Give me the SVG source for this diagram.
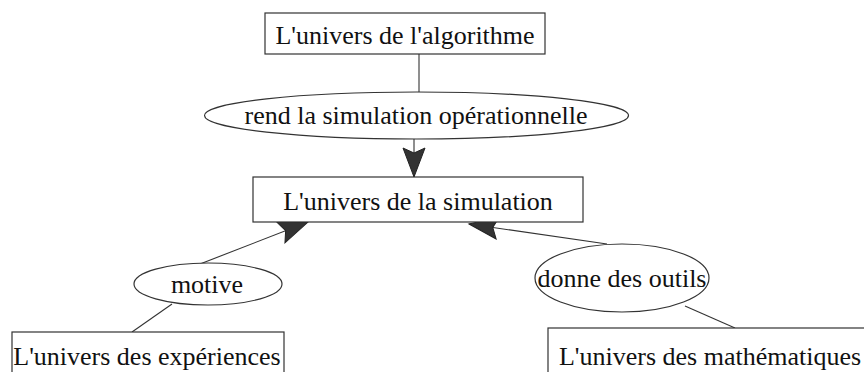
<svg xmlns="http://www.w3.org/2000/svg" width="864" height="372" viewBox="0 0 864 372">
<defs>
<style>
.box{fill:#fff;stroke:#333;stroke-width:1.2}
.ell{fill:#fff;stroke:#333;stroke-width:1.2}
.t{font-family:"Liberation Serif","Times New Roman",serif;font-size:26px;fill:#111;text-anchor:middle}
.c{fill:none;stroke:#333;stroke-width:1.1}
</style>
<marker id="ah" viewBox="-30 -12 32 24" refX="0" refY="0" markerWidth="32" markerHeight="24" markerUnits="userSpaceOnUse" orient="auto">
<path d="M0,0 L-29,-11 L-24,0 L-29,11 Z" fill="#333" stroke="#222" stroke-width="1"/>
</marker>
</defs>
<rect width="864" height="372" fill="#fff"/>
<g id="connectors">
<line class="c" x1="419" y1="54" x2="419" y2="92"/>
<line class="c" x1="414" y1="139" x2="414" y2="177" marker-end="url(#ah)"/>
<line class="c" x1="200" y1="264" x2="308" y2="222" marker-end="url(#ah)"/>
<line class="c" x1="172" y1="304" x2="132" y2="332"/>
<line class="c" x1="607" y1="244" x2="469" y2="224" marker-end="url(#ah)"/>
<line class="c" x1="685" y1="306" x2="735" y2="328"/>
</g>
<g id="n-algorithme">
<rect class="box" x="265" y="13" width="280" height="41"/>
<text class="t" x="405" y="44">L'univers de l'algorithme</text>
</g>
<g id="e-rend">
<ellipse class="ell" cx="416.5" cy="115.5" rx="212" ry="23.5"/>
<text class="t" x="416" y="124">rend la simulation opérationnelle</text>
</g>
<g id="n-simulation">
<rect class="box" x="253" y="177" width="330" height="45"/>
<text class="t" x="418" y="210">L'univers de la simulation</text>
</g>
<g id="e-motive">
<ellipse class="ell" cx="208" cy="284" rx="74" ry="21"/>
<text class="t" x="207" y="293">motive</text>
</g>
<g id="e-donne">
<ellipse class="ell" cx="622" cy="278" rx="87" ry="34"/>
<text class="t" x="622" y="287">donne des outils</text>
</g>
<g id="n-experiences">
<rect class="box" x="12" y="332" width="272" height="50"/>
<text class="t" x="147" y="365">L'univers des expériences</text>
</g>
<g id="n-mathematiques">
<rect class="box" x="548" y="328" width="330" height="54"/>
<text class="t" x="710" y="365">L'univers des mathématiques</text>
</g>
</svg>
